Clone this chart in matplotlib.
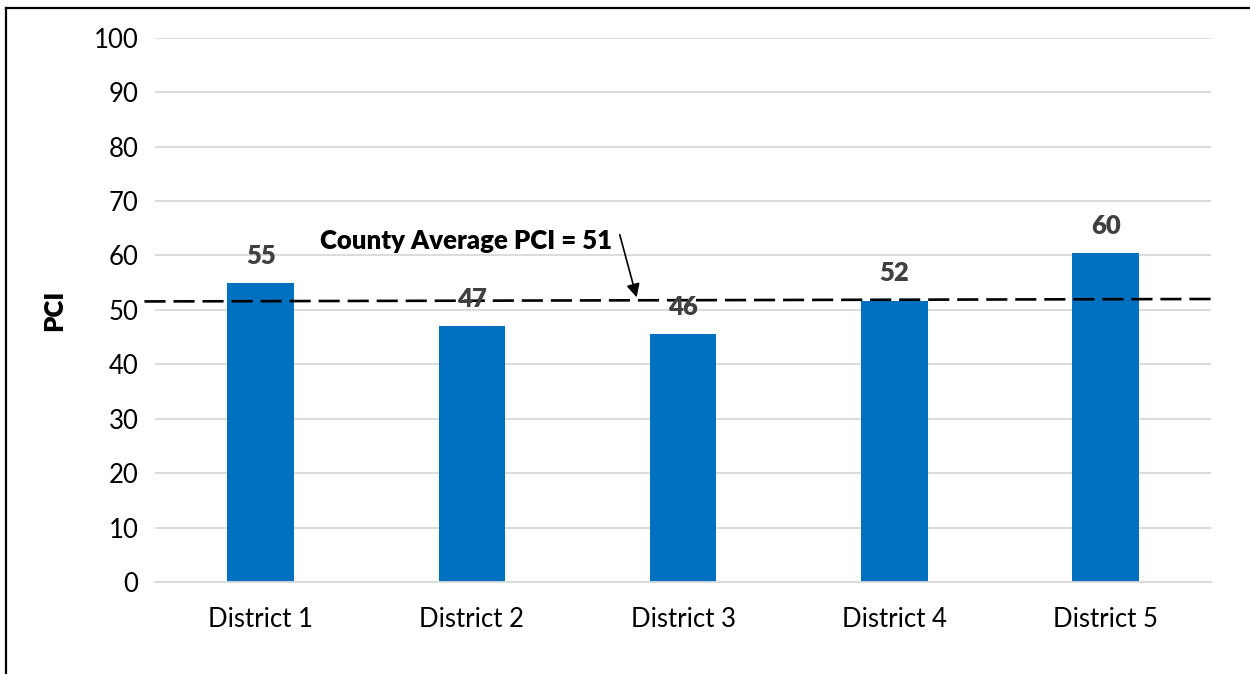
import matplotlib.pyplot as plt
from matplotlib.lines import Line2D

plt.rcParams['font.family'] = ['Lato', 'DejaVu Sans']

districts = ['District 1', 'District 2', 'District 3', 'District 4', 'District 5']
pci = [54.9, 47.0, 45.5, 51.7, 60.4]
pci_labels = ['55', '47', '46', '52', '60']
avg_line_x = [-0.55, 4.5]
avg_line_y = [51.55, 52.0]

fig = plt.figure(figsize=(12.5, 6.74), dpi=100)
ax = fig.add_axes([0.124, 0.1365, 0.845, 0.8075])

x = range(len(districts))
ax.bar(x, pci, width=0.315, color='#0070C0', zorder=2)

# value labels above bars
for i, v in enumerate(pci):
    ax.annotate(pci_labels[i], (i, v), xytext=(0, 11), textcoords='offset points',
                ha='center', va='bottom', fontsize=18.5, fontweight='heavy', color='#404040', zorder=4)

# county average dashed line
ax.plot(avg_line_x, avg_line_y, color='black', lw=1.9, dashes=(8, 3), zorder=3, clip_on=False)
ax.text(1.665, 62.7, 'County Average PCI = 51', ha='right', va='center',
        fontsize=18.5, fontweight='heavy', color='black')
ax.annotate('', xy=(1.78, 52.3), xytext=(1.70, 63.8),
            arrowprops=dict(arrowstyle='-|>', color='black', lw=1.2, mutation_scale=20,
                            shrinkA=0, shrinkB=0))

ax.set_xlim(-0.5, 4.5)
ax.set_ylim(0, 100)
ax.set_yticks(range(0, 101, 10))
ax.set_xticks(list(x))
ax.set_xticklabels(districts)
ax.tick_params(length=0, labelsize=18.5, colors='black', pad=12)
ax.tick_params(axis='x', pad=18)
ax.grid(axis='y', color='#d9d9d9', lw=1.3, zorder=0)
ax.set_axisbelow(True)
for s in ['top', 'right', 'left']:
    ax.spines[s].set_visible(False)
ax.spines['bottom'].set_color('#d9d9d9')
ax.spines['bottom'].set_linewidth(1.3)
ax.set_ylabel('PCI', fontsize=18.5, fontweight='heavy', labelpad=20)

# outer frame (top and left edges)
fig.add_artist(Line2D([0.005, 1.0], [0.988, 0.988], transform=fig.transFigure, color='black', lw=1.6))
fig.add_artist(Line2D([0.005, 0.005], [0.0, 0.988], transform=fig.transFigure, color='black', lw=1.6))

fig.savefig('out.png', dpi=100)
